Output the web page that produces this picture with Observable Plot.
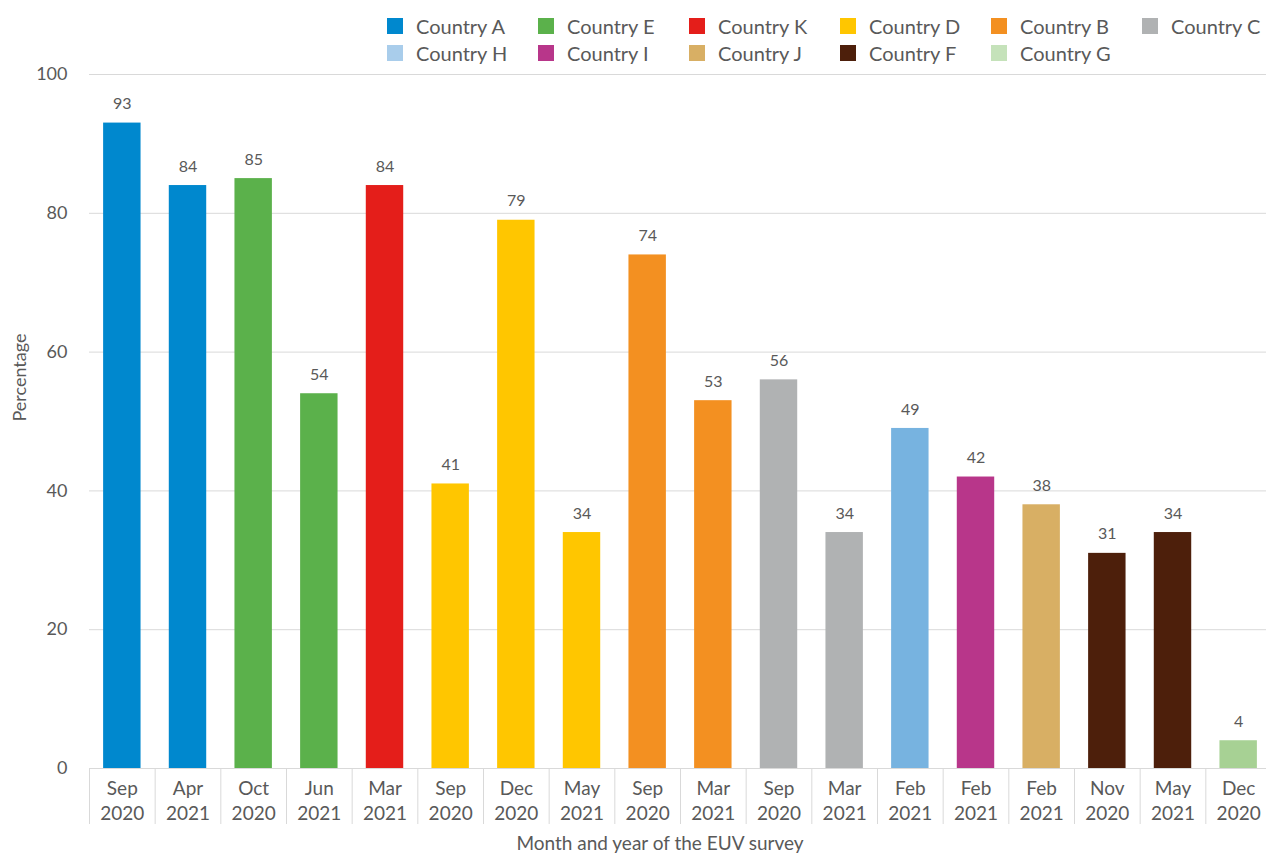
<!DOCTYPE html>
<html>
<head>
<meta charset="utf-8">
<script src="https://cdn.jsdelivr.net/npm/d3@7"></script>
<script src="https://cdn.jsdelivr.net/npm/@observablehq/plot@0.6"></script>
<style>
  html, body { margin: 0; padding: 0; background: #fff; overflow: hidden; }
  body { width: 1266px; height: 854px; position: relative; font-family: Lato, "Noto Sans", sans-serif; }
  #legend { position: absolute; left: 0; top: 0; width: 1266px; height: 66px; z-index: 2; }
  .item { position: absolute; display: flex; align-items: center; font-size: 20px; color: #595959; white-space: nowrap; }
  .sw { width: 16px; height: 16px; margin-right: 13px; flex: none; }
  #chart svg { display: block; }
</style>
</head>
<body>
<div id="chart"></div>
<div id="legend"></div>
<script>
// ---- data ----
const months = ["Sep 2020","Apr 2021","Oct 2020","Jun 2021","Mar 2021","Sep 2020","Dec 2020","May 2021","Sep 2020","Mar 2021","Sep 2020","Mar 2021","Feb 2021","Feb 2021","Feb 2021","Nov 2020","May 2021","Dec 2020"];
const countries = ["Country A","Country A","Country E","Country E","Country K","Country D","Country D","Country D","Country B","Country B","Country C","Country C","Country H","Country I","Country J","Country F","Country F","Country G"];
const values = [93,84,85,54,84,41,79,34,74,53,56,34,49,42,38,31,34,4];
const legendOrder = ["Country A","Country E","Country K","Country D","Country B","Country C","Country H","Country I","Country J","Country F","Country G"];
const barColors = ["#0088CE","#5BB14B","#E41E1A","#FFC600","#F39021","#B0B2B3","#77B3E0","#B8368A","#D8AF64","#4D1F0B","#A7D194"];
const legendColors = ["#0088CE","#5BB14B","#E41E1A","#FFC600","#F39021","#B0B2B3","#A9CDEB","#B8368A","#D8AF64","#4D1F0B","#C5E2BA"];
const yTicks = [0,20,40,60,80,100];
const xTitle = "Month and year of the EUV survey";
const yTitle = "Percentage";

// ---- legend ----
const legend = document.getElementById("legend");
legendOrder.forEach((name, i) => {
  const col = i % 6, row = Math.floor(i / 6);
  const el = document.createElement("div");
  el.className = "item";
  el.style.left = (387 + col * 151) + "px";
  el.style.top = (15 + row * 26.5) + "px";
  el.style.height = "22px";
  const sw = document.createElement("span");
  sw.className = "sw";
  sw.style.background = legendColors[i];
  const tx = document.createElement("span");
  tx.textContent = name;
  el.appendChild(sw); el.appendChild(tx);
  legend.appendChild(el);
});

// ---- chart ----
const data = values.map((v, i) => ({i, month: months[i], country: countries[i], value: v}));
const idx = data.map(d => d.i);
const left = 89, right = 1271;
const step = (right - left) / idx.length;
const grey = "#595959";

const chart = Plot.plot({
  width: 1266,
  height: 854,
  marginTop: 74,
  marginBottom: 86,
  marginLeft: 89,
  marginRight: 0,
  style: {fontFamily: "Lato, 'Noto Sans', sans-serif", color: grey, background: "#fff"},
  x: {domain: idx, range: [left, right], paddingInner: 0.43, paddingOuter: 0.215, round: false},
  y: {domain: [0, 100]},
  color: {domain: legendOrder, range: barColors},
  marks: [
    Plot.gridY(yTicks, {stroke: "#d9d9d9", strokeOpacity: 1}),
    Plot.axisY(yTicks, {tickSize: 0, tickPadding: 22, fontSize: 18, fill: grey, label: null}),
    Plot.ruleY([0], {stroke: "#d9d9d9"}),
    Plot.barY(data, {x: "i", y: "value", fill: "country"}),
    Plot.text(data, {x: "i", y: "value", text: d => String(d.value), dy: -19, fontSize: 16, fill: grey}),
    Plot.axisX({tickSize: 56, tickFormat: () => "", dx: -step / 2, stroke: "#d9d9d9", label: null}),
    Plot.axisX({tickSize: 0, tickPadding: 9, fontSize: 19, lineHeight: 1.3, fill: grey,
      tickFormat: i => months[i].replace(" ", "\n"), label: null}),
    Plot.text([yTitle], {frameAnchor: "left", rotate: -90, dx: -69, fontSize: 18, fill: grey}),
    Plot.text([xTitle], {frameAnchor: "bottom", lineAnchor: "middle", dy: 75, dx: -18, fontSize: 19, fill: grey})
  ]
});
document.getElementById("chart").appendChild(chart);
</script>
</body>
</html>
